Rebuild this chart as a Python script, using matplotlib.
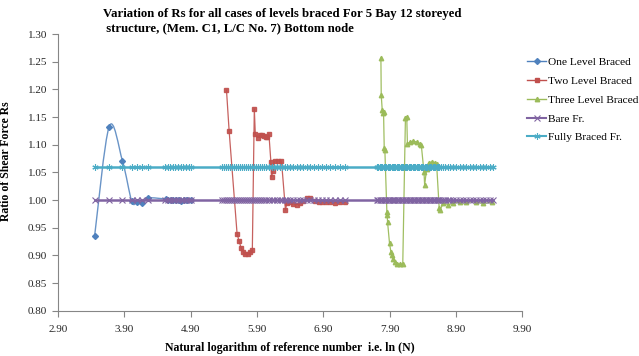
import numpy as np
import matplotlib
matplotlib.use('Agg')
from matplotlib import pyplot as plt
from matplotlib.path import Path
from matplotlib.patches import PathPatch
from matplotlib.lines import Line2D

matplotlib.rcParams.update({'font.family': 'Liberation Serif', 'font.size': 8})

# ------------------------------ Data ------------------------------------
one_x = [3.45, 3.67, 3.87, 4.01, 4.09, 4.17, 4.26, 4.52, 4.56, 4.60, 4.64,
         4.68, 4.72, 4.76, 4.80, 4.85, 4.90]
one_y = [0.935, 1.133, 1.071, 0.998, 0.996, 0.995, 1.004, 1.002, 1.001, 1.001,
         1.000, 1.000, 1.000, 0.999, 1.000, 1.000, 1.000]

two_x = [5.44, 5.48, 5.60, 5.63, 5.66, 5.69, 5.72, 5.76, 5.80, 5.83, 5.86,
         5.875, 5.91, 5.95, 5.98, 6.00, 6.03, 6.05, 6.08, 6.11, 6.12, 6.14,
         6.17, 6.22, 6.27, 6.33, 6.35, 6.40, 6.45, 6.50, 6.55, 6.60, 6.65,
         6.70, 6.78, 6.83, 6.88, 6.94, 7.00, 7.07, 7.15, 7.23]
two_y = [1.199, 1.125, 0.939, 0.926, 0.914, 0.907, 0.903, 0.903, 0.907, 0.910,
         1.165, 1.119, 1.113, 1.118, 1.117, 1.116, 1.115, 1.114, 1.120, 1.069,
         1.042, 1.052, 1.071, 1.071, 1.071, 0.982, 0.994, 0.997, 0.993, 0.992,
         0.994, 0.998, 1.003, 1.003, 0.998, 0.997, 0.997, 0.996, 0.996, 0.995,
         0.996, 0.996]

three_x = [7.77, 7.775, 7.79, 7.80, 7.81, 7.82, 7.83, 7.86, 7.865, 7.87, 7.90,
           7.92, 7.94, 7.95, 7.99, 8.02, 8.06, 8.10, 8.14, 8.16, 8.17, 8.21,
           8.26, 8.31, 8.36, 8.38, 8.42, 8.43, 8.46, 8.49, 8.54, 8.59, 8.61,
           8.65, 8.66, 8.71, 8.79, 8.86, 8.96, 9.06, 9.21, 9.31, 9.44]
three_y = [1.257, 1.190, 1.163, 1.157, 1.160, 1.095, 1.090, 0.979, 0.973, 0.961,
           0.922, 0.907, 0.901, 0.894, 0.888, 0.885, 0.884, 0.885, 1.148, 1.151,
           1.102, 1.105, 1.107, 1.105, 1.102, 1.099, 1.051, 1.027, 1.057, 1.068,
           1.069, 1.068, 1.066, 0.985, 0.982, 0.994, 0.992, 0.994, 0.997, 0.996,
           0.997, 0.994, 0.996]

frame_x = [3.46, 3.66, 3.87, 4.01, 4.09, 4.17, 4.26, 4.51, 4.55, 4.59, 4.63,
           4.67, 4.71, 4.75, 4.79, 4.83, 4.87, 4.91,
           5.37, 5.40, 5.43, 5.46, 5.49, 5.52, 5.55, 5.58, 5.61, 5.64, 5.67,
           5.70, 5.73, 5.76, 5.79, 5.82, 5.85, 5.88, 5.91, 5.94, 5.97, 6.00,
           6.04, 6.08, 6.12, 6.16, 6.20, 6.24, 6.28, 6.32, 6.36, 6.40, 6.45,
           6.50, 6.55, 6.60, 6.65, 6.70, 6.76, 6.82, 6.88, 6.94, 7.00, 7.07,
           7.15, 7.23,
           7.71, 7.73, 7.75, 7.77, 7.79, 7.81, 7.83, 7.85, 7.87, 7.89, 7.91,
           7.93, 7.95, 7.97, 7.99, 8.01, 8.03, 8.05, 8.07, 8.09, 8.11, 8.13,
           8.15, 8.17, 8.19, 8.21, 8.23, 8.25, 8.27, 8.29, 8.31, 8.33, 8.35,
           8.37, 8.39, 8.41, 8.43, 8.45, 8.47, 8.49, 8.51, 8.53, 8.55, 8.57,
           8.59, 8.61, 8.63, 8.65, 8.68, 8.71, 8.74, 8.78, 8.82, 8.86, 8.91,
           8.96, 9.01, 9.06, 9.11, 9.16, 9.21, 9.26, 9.31, 9.36, 9.41, 9.46]
bare_y = [1.00] * len(frame_x)
fully_y = [1.06] * len(frame_x)

labels = ['One Level Braced', 'Two Level Braced', 'Three Level Braced',
          'Bare Fr.', 'Fully Braced Fr.']
colors = ['#4F81BD', '#C0504D', '#9BBB59', '#8064A2', '#4BACC6']

# ------------------------------ Figure ----------------------------------
fig = plt.figure(figsize=(6.39, 3.56), dpi=100)
fig.subplots_adjust(left=0.091, right=0.817, bottom=0.127, top=0.904)
ax = fig.add_subplot(111)


def smooth_path(x, y):
    # bezier through the points, like the smoothed line option of the sheet
    p = np.column_stack([x, y])
    verts = [p[0]]
    codes = [Path.MOVETO]
    n = len(p)
    for i in range(n - 1):
        p0 = p[i - 1] if i > 0 else p[i]
        p3 = p[i + 2] if i + 2 < n else p[i + 1]
        c1 = p[i] + (p[i + 1] - p0) / 6.0
        c2 = p[i + 1] - (p3 - p[i]) / 6.0
        verts += [c1, c2, p[i + 1]]
        codes += [Path.CURVE4] * 3
    return Path(verts, codes)


ax.add_patch(PathPatch(smooth_path(one_x, one_y), fc='none', ec=colors[0],
                       lw=1.0, alpha=0.85))
ax.plot(one_x, one_y, 'D', color=colors[0], markersize=3)
ax.plot(two_x, two_y, 's-', color=colors[1], markersize=3.2, lw=0.9,
        alpha=0.9)
ax.plot(three_x, three_y, '^-', color=colors[2], markersize=3.2, lw=0.9,
        alpha=0.95)
ax.plot(frame_x, bare_y, 'x-', color=colors[3], markersize=4, mew=0.8,
        lw=1.8)
ax.plot(frame_x, fully_y, '-', marker=(6, 2, 0), color=colors[4],
        markersize=4.5, mew=0.8, lw=1.8)

ax.set_xlim(2.9, 9.9)
ax.set_ylim(0.8, 1.3)
ax.set_xticks(np.arange(2.9, 9.91, 1.0))
ax.set_yticks(np.arange(0.8, 1.301, 0.05))
ax.xaxis.set_major_formatter(matplotlib.ticker.FormatStrFormatter('%.2f'))
ax.yaxis.set_major_formatter(matplotlib.ticker.FormatStrFormatter('%.2f'))
ax.tick_params(axis='both', direction='out', length=4, width=0.8,
               color='#868686', labelsize=8, labelcolor='#262626', pad=4)
ax.tick_params(axis='x', pad=6)
for s in ['top', 'right']:
    ax.spines[s].set_visible(False)
for s in ['left', 'bottom']:
    ax.spines[s].set_color('#868686')
    ax.spines[s].set_linewidth(0.8)

ax.set_xlabel('Natural logarithm of reference number  i.e. ln (N)',
              fontsize=8.5, fontweight='bold', labelpad=6)
ax.set_ylabel('Ratio of Shear Force Rs', fontsize=8.5, fontweight='bold')
ax.yaxis.set_label_coords(-0.1, 0.54)

fig.text(0.161, 0.978,
         'Variation of Rs for all cases of levels braced For 5 Bay 12 storeyed\n'
         ' structure, (Mem. C1, L/C No. 7) Bottom node',
         ha='left', va='top', fontsize=9.2, fontweight='bold',
         linespacing=1.25)

handles = [
    Line2D([], [], color=colors[0], marker='D', markersize=3, lw=1.0),
    Line2D([], [], color=colors[1], marker='s', markersize=3.2, lw=1.0),
    Line2D([], [], color=colors[2], marker='^', markersize=3.2, lw=1.0),
    Line2D([], [], color=colors[3], marker='x', markersize=4, mew=0.8, lw=1.5),
    Line2D([], [], color=colors[4], marker=(6, 2, 0), markersize=4.5,
           mew=0.8, lw=1.5),
]
fig.legend(handles, labels, loc='upper left',
           bbox_to_anchor=(527 / 639, 1 - 57 / 356), frameon=False,
           fontsize=8.2, handlelength=1.7, handletextpad=0.15,
           labelspacing=0.78, borderpad=0, borderaxespad=0)

fig.savefig('out.png', dpi=100)
